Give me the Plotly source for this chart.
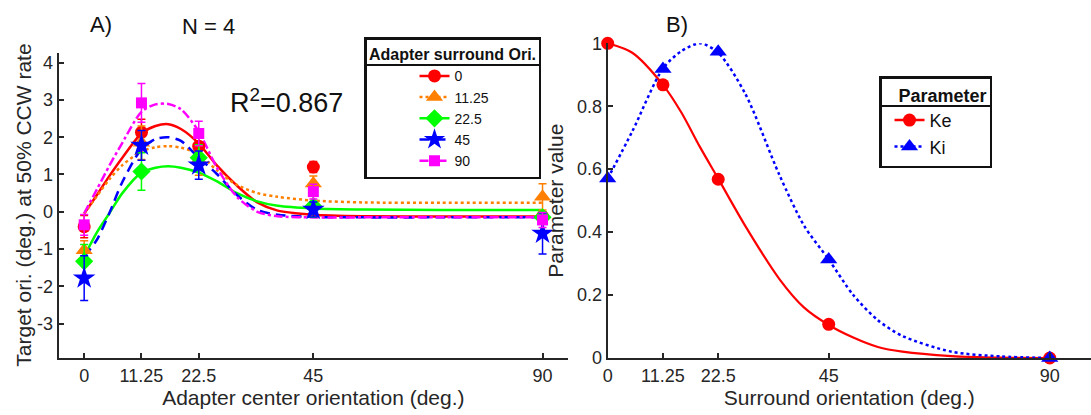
import plotly.graph_objects as go

FONT = "Liberation Sans, Arial, sans-serif"
TXT = "#262626"

# ---------------- Panel A data ----------------
centers = [0, 11.25, 22.5, 45, 90]
center_ticktext = ["0", "11.25", "22.5", "45", "90"]
surround_names = ["0", "11.25", "22.5", "45", "90"]

thr_s0 = [-0.40, 2.13, 1.76, 1.20, -0.13]
err_s0 = [0.30, 0.35, 0.30, 0.15, 0.12]
thr_s11 = [-1.03, 1.85, 1.38, 0.76, 0.40]
err_s11 = [0.25, 0.45, 0.40, 0.20, 0.35]
thr_s22 = [-1.33, 1.08, 1.45, 0.15, -0.15]
err_s22 = [0.45, 0.50, 0.35, 0.30, 0.15]
thr_s45 = [-1.78, 1.78, 1.25, 0.06, -0.58]
err_s45 = [0.60, 0.40, 0.38, 0.20, 0.55]
thr_s90 = [-0.35, 2.92, 2.10, 0.54, -0.22]
err_s90 = [0.28, 0.52, 0.33, 0.20, 0.20]

# model fit curves
fit_x = [0, 2.5, 5, 7.5, 11.25, 14, 16.5, 19, 22.5, 26, 30, 34, 38, 45, 55, 70, 90]
fit_s0 = [-0.05, 0.45, 0.97, 1.45, 2.10, 2.30, 2.35, 2.22, 1.83, 1.25, 0.70, 0.25, 0.03, -0.08, -0.12, -0.13, -0.13]
fit_s11 = [-0.05, 0.42, 0.88, 1.25, 1.62, 1.73, 1.76, 1.72, 1.55, 1.12, 0.72, 0.50, 0.40, 0.30, 0.25, 0.24, 0.24]
fit_s22 = [-1.20, -0.55, -0.03, 0.50, 1.05, 1.18, 1.22, 1.18, 1.05, 0.82, 0.50, 0.28, 0.16, 0.09, 0.06, 0.05, 0.05]
fit_s45 = [-1.20, -0.75, -0.02, 0.80, 1.68, 1.95, 2.00, 1.90, 1.45, 1.02, 0.45, 0.05, -0.08, -0.14, -0.15, -0.15, -0.15]
fit_s90 = [-0.04, 0.60, 1.25, 1.85, 2.68, 2.88, 2.89, 2.75, 2.15, 1.20, 0.40, 0.00, -0.12, -0.15, -0.15, -0.15, -0.15]

a_yticks = [-3, -2, -1, 0, 1, 2, 3, 4]
a_yticktext = ["-3", "-2", "-1", "0", "1", "2", "3", "4"]

# ---------------- Panel B data ----------------
surr = [0, 11.25, 22.5, 45, 90]
ke_vals = [1.0, 0.868, 0.568, 0.107, 0.0]
ki_vals = [0.57, 0.918, 0.973, 0.313, 0.0]

curve_x = [0, 5, 11.25, 15, 18.8, 22.5, 28, 35, 40, 45, 50, 55, 60, 70, 80, 90]
ke_curve = [1.0, 0.97, 0.868, 0.78, 0.67, 0.57, 0.42, 0.25, 0.16, 0.105, 0.065, 0.035, 0.02, 0.006, 0.001, 0.0]
ki_curve = [0.57, 0.72, 0.92, 0.975, 1.0, 0.97, 0.84, 0.58, 0.42, 0.313, 0.20, 0.12, 0.07, 0.02, 0.005, 0.0]

b_yticks = [0, 0.2, 0.4, 0.6, 0.8, 1]
b_yticktext = ["0", "0.2", "0.4", "0.6", "0.8", "1"]

# ---------------- styles ----------------
a_series = [
    (thr_s0, err_s0, fit_s0, "#FF0000", "solid", "circle", 13),
    (thr_s11, err_s11, fit_s11, "#FF8000", "dot", "triangle-up", 15),
    (thr_s22, err_s22, fit_s22, "#00FF00", "solid", "diamond", 14),
    (thr_s45, err_s45, fit_s45, "#0000FF", "10px,6px", "star", 17),
    (thr_s90, err_s90, fit_s90, "#FF00FF", "dashdot", "square", 11),
]

fig = go.Figure()

for (vals, errs, fit, col, dash, sym, msz), name in zip(a_series, surround_names):
    fig.add_trace(go.Scatter(
        x=fit_x, y=fit, mode="lines", line=dict(color=col, width=2.5, dash=dash, shape="spline", smoothing=0.8),
        showlegend=False, xaxis="x", yaxis="y", hoverinfo="skip"))
for (vals, errs, fit, col, dash, sym, msz), name in zip(a_series, surround_names):
    fig.add_trace(go.Scatter(
        x=centers, y=vals, mode="markers",
        marker=dict(symbol=sym, size=msz, color=col, line=dict(width=0)),
        error_y=dict(type="data", array=errs, visible=True, color=col, thickness=1.5, width=4),
        showlegend=False, xaxis="x", yaxis="y", cliponaxis=False))
    fig.add_trace(go.Scatter(
        x=[None], y=[None], mode="lines+markers", name=name,
        line=dict(color=col, width=2.5, dash=dash),
        marker=dict(symbol=sym, size=msz, color=col),
        legend="legend", xaxis="x", yaxis="y"))

# Panel B
fig.add_trace(go.Scatter(x=curve_x, y=ke_curve, mode="lines",
                         line=dict(color="#FF0000", width=2.2, shape="spline", smoothing=0.8),
                         showlegend=False, xaxis="x2", yaxis="y2", cliponaxis=False))
fig.add_trace(go.Scatter(x=curve_x, y=ki_curve, mode="lines",
                         line=dict(color="#0000FF", width=2.5, dash="dot", shape="spline", smoothing=0.8),
                         showlegend=False, xaxis="x2", yaxis="y2", cliponaxis=False))
fig.add_trace(go.Scatter(x=surr, y=ke_vals, mode="markers",
                         marker=dict(symbol="circle", size=13, color="#FF0000"),
                         showlegend=False, xaxis="x2", yaxis="y2", cliponaxis=False))
fig.add_trace(go.Scatter(x=surr, y=ki_vals, mode="markers",
                         marker=dict(symbol="triangle-up", size=15, color="#0000FF"),
                         showlegend=False, xaxis="x2", yaxis="y2", cliponaxis=False))
fig.add_trace(go.Scatter(x=[None], y=[None], mode="lines+markers", name="Ke",
                         line=dict(color="#FF0000", width=2.5),
                         marker=dict(symbol="circle", size=13, color="#FF0000"),
                         legend="legend2", xaxis="x2", yaxis="y2"))
fig.add_trace(go.Scatter(x=[None], y=[None], mode="lines+markers", name="Ki",
                         line=dict(color="#0000FF", width=2.5, dash="dot"),
                         marker=dict(symbol="triangle-up", size=15, color="#0000FF"),
                         legend="legend2", xaxis="x2", yaxis="y2"))

W, H = 1091, 415
def px(xp):
    return xp / W
def py(yp):
    return 1 - yp / H

axis_common = dict(showline=True, linewidth=2, linecolor=TXT, ticks="inside", ticklen=5,
                   tickwidth=1.5, tickcolor=TXT, showgrid=False, zeroline=False,
                   tickfont=dict(size=18, color=TXT, family=FONT), automargin=False)

ann_common = dict(xref="paper", yref="paper", showarrow=False, xanchor="center", yanchor="middle")
NB = "\u00a0"

fig.update_layout(
    width=W, height=H,
    margin=dict(l=0, r=0, t=0, b=0),
    paper_bgcolor="white", plot_bgcolor="white",
    font=dict(family=FONT, color=TXT),
    xaxis=dict(domain=[px(58.7), px(568)], range=[-5, 95], tickvals=centers, ticktext=center_ticktext,
               anchor="y",
               title=dict(text="Adapter center orientation (deg.)", font=dict(size=21, color=TXT), standoff=3),
               **axis_common),
    yaxis=dict(domain=[py(358.3), py(53.3)], range=[-3.93, 4.25], tickvals=a_yticks, ticktext=a_yticktext,
               anchor="x", **axis_common),
    xaxis2=dict(domain=[px(607.7), 1.0], range=[0, 98.4], tickvals=surr, ticktext=center_ticktext,
                anchor="y2",
                title=dict(text="Surround orientation (deg.)", font=dict(size=21, color=TXT), standoff=3),
                **axis_common),
    yaxis2=dict(domain=[py(358), py(43.3)], range=[0, 1], tickvals=b_yticks, ticktext=b_yticktext, anchor="x2",
                title=dict(text="Parameter value", font=dict(size=21, color=TXT), standoff=8),
                **axis_common),
    legend=dict(x=px(364), y=py(37), xanchor="left", yanchor="top",
                bgcolor="rgba(0,0,0,0)", bordercolor="#111111", borderwidth=2.5,
                font=dict(size=14, color="#111111", family=FONT),
                title=dict(text="<b>Adapter surround Ori.</b>", side="top center",
                           font=dict(size=16, color="#111111", family=FONT)),
                indentation=48, itemsizing="trace", tracegroupgap=0),
    legend2=dict(x=px(879), y=py(76), xanchor="left", yanchor="top",
                 bgcolor="rgba(0,0,0,0)", bordercolor="#111111", borderwidth=2.5,
                 font=dict(size=18, color="#111111", family=FONT),
                 title=dict(text="<b>" + NB * 3 + "Parameter</b>", side="top",
                            font=dict(size=18, color="#111111", family=FONT)),
                 indentation=8, itemsizing="trace", tracegroupgap=0),
    showlegend=True,
    annotations=[
        dict(text="Target ori. (deg.) at 50% CCW rate", x=px(24), y=py(205.7), textangle=-90,
             font=dict(size=21, color=TXT), **ann_common),
        dict(text="A)", x=px(101), y=py(25), font=dict(size=22, color="#111111"), **ann_common),
        dict(text="N = 4", x=px(208), y=py(26), font=dict(size=22, color="#111111"), **ann_common),
        dict(text="R<sup>2</sup>=0.867", x=px(286), y=py(101), font=dict(size=27, color="#111111"), **ann_common),
        dict(text="B)", x=px(677), y=py(24), font=dict(size=22, color="#111111"), **ann_common),
    ],
    shapes=[
        dict(type="line", xref="paper", yref="paper", x0=px(365), x1=px(539), y0=py(65), y1=py(65),
             line=dict(color="#111111", width=2)),
        dict(type="line", xref="paper", yref="paper", x0=px(880), x1=px(990), y0=py(106), y1=py(106),
             line=dict(color="#111111", width=2)),
    ],
)

fig.write_html("out.html", config={"displayModeBar": False},
               post_script="document.body.style.margin='0';document.body.style.padding='0';document.body.style.overflow='hidden';")
